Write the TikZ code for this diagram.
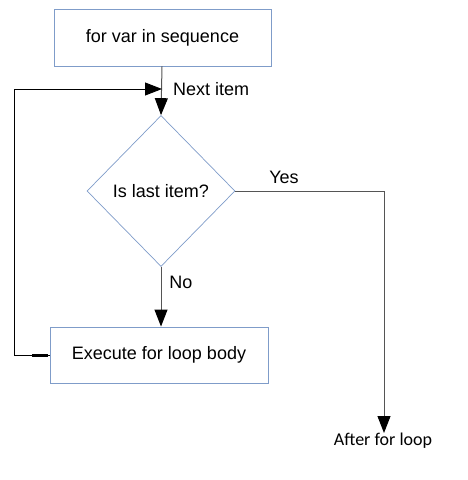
\documentclass[tikz,border=0pt]{standalone}
\usepackage{fontspec}
\setmainfont{Liberation Sans}
\newfontfamily\calfont{Carlito}
\usetikzlibrary{shapes.geometric,arrows.meta}
\definecolor{boxblue}{HTML}{7F9CC9}
\definecolor{linegray}{HTML}{555555}
\begin{document}
\begin{tikzpicture}[x=1pt,y=-1pt,
  procbox/.style={draw=boxblue,line width=0.9pt,rectangle,inner sep=0pt,font=\fontsize{18}{21}\selectfont},
  decision/.style={draw=boxblue,line width=0.7pt,diamond,inner sep=0pt,font=\fontsize{18}{21}\selectfont},
  tip/.style={-{Triangle[length=17pt,width=13pt,color=black,fill=black]}},
  flow/.style={draw=linegray,line width=1pt,tip},
  loopline/.style={draw=black,line width=0.9pt},
  lbl/.style={font=\fontsize{18}{21}\selectfont,inner sep=0pt}]
\useasboundingbox (0,0) rectangle (468,480);
\node[procbox,minimum width=217pt,minimum height=57pt] (top) at (162.5,37.5) {for var in sequence};
\node[decision,minimum width=148pt,minimum height=151pt] (dec) at (161,191) {Is last item?};
\node[procbox,minimum width=218pt,minimum height=56pt] (body) at (159,355) {Execute for loop body};
\node[font=\calfont\fontsize{18}{21}\selectfont,inner sep=0pt,anchor=north] (after) at (383,433) {After for loop};
\coordinate (join) at (162,89);
\coordinate (ll) at (14,355);
\coordinate (lt) at (14,89);
\coordinate (yc) at (384,191);
% top to decision
\draw[flow] (top.south -| join) -- (dec.north);
% loop back
\draw[loopline] (body.west) -- (ll) -- (lt);
\draw[loopline,tip] (lt) -- (join);
\draw[line width=3pt,black] (32,355) -- (48,355);
% yes
\draw[flow] (dec.east) -- (yc) -- (after.north -| yc);
% no
\draw[flow] (dec.south) -- (body.north -| dec.south);
% labels
\node[lbl,anchor=west] (next) at (173,89) {Next item};
\node[lbl] (yes) at (284,177) {Yes};
\node[lbl] (no) at (181,282) {No};
\end{tikzpicture}
\end{document}
